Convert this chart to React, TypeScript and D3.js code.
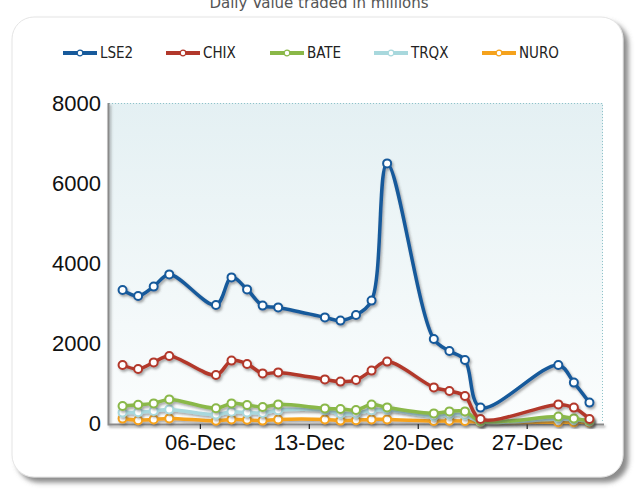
import * as d3 from "d3";
import { useEffect, useRef } from "react";

const dates = [
  "2009-12-01", "2009-12-02", "2009-12-03", "2009-12-04", "2009-12-07",
  "2009-12-08", "2009-12-09", "2009-12-10", "2009-12-11", "2009-12-14",
  "2009-12-15", "2009-12-16", "2009-12-17", "2009-12-18", "2009-12-21",
  "2009-12-22", "2009-12-23", "2009-12-24", "2009-12-29", "2009-12-30",
  "2009-12-31",
];
const lse2 = [3325, 3175, 3410, 3715, 2950, 3640, 3340, 2935, 2890, 2640, 2560, 2700, 3060, 6490, 2100, 1800, 1575, 385, 1450, 1010, 510];
const chix = [1450, 1350, 1515, 1675, 1200, 1560, 1475, 1240, 1265, 1090, 1035, 1075, 1310, 1535, 890, 800, 675, 100, 465, 385, 100];
const bate = [425, 455, 490, 590, 370, 490, 450, 400, 465, 365, 350, 325, 460, 390, 240, 290, 290, 50, 160, 115, 60];
const trqx = [260, 270, 300, 340, 210, 280, 260, 250, 320, 320, 230, 240, 320, 330, 170, 210, 200, 30, 100, 80, 40];
const nuro = [110, 70, 90, 115, 55, 90, 80, 60, 90, 90, 60, 70, 90, 90, 50, 55, 50, 20, 20, 20, 15];

const seriesNames = ["LSE2", "CHIX", "BATE", "TRQX", "NURO"];
const seriesColors = ["#175a9b", "#b2382b", "#8ab848", "#a8d8dd", "#f5a21c"];
const yTicks = [0, 2000, 4000, 6000, 8000];
const xTickDates = ["2009-12-06", "2009-12-13", "2009-12-20", "2009-12-27"];
const xTickLabels = ["06-Dec", "13-Dec", "20-Dec", "27-Dec"];
const title = "Daily Value traded in millions";

export default function App() {
  const ref = useRef<SVGSVGElement>(null);

  useEffect(() => {
    const svg = d3.select(ref.current);
    const width = 638;
    const height = 491;
    const margin = { top: 103, right: 35, bottom: 68, left: 109 };
    svg.selectAll("*").remove();

    const parse = d3.utcParse("%Y-%m-%d");
    const days = dates.map((d) => parse(d) as Date);
    const allSeries = [lse2, chix, bate, trqx, nuro];

    const x = d3
      .scaleUtc()
      .domain([parse("2009-11-30") as Date, parse("2010-01-01") as Date])
      .range([margin.left - 2, width - margin.right + 2]);
    const y = d3
      .scaleLinear()
      .domain([0, 8000])
      .range([height - margin.bottom, margin.top]);

    const defs = svg.append("defs");
    const grad = defs
      .append("linearGradient")
      .attr("id", "bg")
      .attr("x1", 0)
      .attr("y1", 0)
      .attr("x2", 0)
      .attr("y2", 1);
    grad.append("stop").attr("offset", "0%").attr("stop-color", "#e4f0f3");
    grad.append("stop").attr("offset", "100%").attr("stop-color", "#fbfdfd");

    const boxShadow = defs.append("filter").attr("id", "boxShadow").attr("x", "-5%").attr("y", "-5%").attr("width", "115%").attr("height", "115%");
    boxShadow
      .append("feDropShadow")
      .attr("dx", 5)
      .attr("dy", 5)
      .attr("stdDeviation", 2.5)
      .attr("flood-color", "#666")
      .attr("flood-opacity", 0.75);

    const lineShadow = defs.append("filter").attr("id", "lineShadow").attr("x", "-5%").attr("y", "-5%").attr("width", "115%").attr("height", "120%");
    lineShadow
      .append("feDropShadow")
      .attr("dx", 1.5)
      .attr("dy", 2)
      .attr("stdDeviation", 1.2)
      .attr("flood-color", "#444")
      .attr("flood-opacity", 0.45);

    // rounded frame
    svg
      .append("rect")
      .attr("x", 12)
      .attr("y", 17)
      .attr("width", 611)
      .attr("height", 460)
      .attr("rx", 22)
      .attr("fill", "#fff")
      .attr("stroke", "#e4e4e4")
      .attr("filter", "url(#boxShadow)");

    svg
      .append("text")
      .attr("x", 319)
      .attr("y", 8)
      .attr("text-anchor", "middle")
      .attr("font-family", "DejaVu Sans, Verdana, sans-serif")
      .attr("font-size", 15)
      .attr("fill", "#555")
      .text(title);

    // legend
    const legendX = [63, 166, 270, 374, 482];
    const legend = svg
      .selectAll("g.legend")
      .data(seriesNames)
      .join("g")
      .attr("class", "legend")
      .attr("transform", (_, i) => `translate(${legendX[i]},53)`);
    legend
      .append("line")
      .attr("x1", 0)
      .attr("x2", 34)
      .attr("stroke", (_, i) => seriesColors[i])
      .attr("stroke-width", 4);
    legend
      .append("circle")
      .attr("cx", 17)
      .attr("r", 2.8)
      .attr("fill", "#fff")
      .attr("stroke", (_, i) => seriesColors[i])
      .attr("stroke-width", 1.2);
    legend
      .append("text")
      .attr("x", 37)
      .attr("dy", "0.35em")
      .attr("font-family", "DejaVu Sans Condensed, DejaVu Sans, sans-serif")
      .attr("font-size", 15)
      .attr("fill", "#222")
      .text((d) => d);

    // plot background
    const x0 = margin.left;
    const x1 = width - margin.right;
    const yTop = margin.top;
    const yBot = height - margin.bottom;
    svg
      .append("rect")
      .attr("x", x0)
      .attr("y", yTop)
      .attr("width", x1 - x0)
      .attr("height", yBot - yTop)
      .attr("fill", "url(#bg)");
    svg
      .append("path")
      .attr("d", `M${x0},${yTop + 0.5}H${x1 - 0.5}V${yBot}`)
      .attr("fill", "none")
      .attr("stroke", "#8fc3c9")
      .attr("stroke-dasharray", "1,2");

    // axes
    const axisG = svg.append("g").attr("filter", "url(#lineShadow)");
    axisG
      .append("path")
      .attr("d", `M${x0 - 0.5},${yTop}V${yBot + 1.5}H${x1 + 1}`)
      .attr("fill", "none")
      .attr("stroke", "#8a8a8a")
      .attr("stroke-width", 2);

    svg
      .append("g")
      .selectAll("line")
      .data(xTickDates)
      .join("line")
      .attr("x1", (d) => x(parse(d) as Date))
      .attr("x2", (d) => x(parse(d) as Date))
      .attr("y1", yBot + 1)
      .attr("y2", yBot + 6)
      .attr("stroke", "#222")
      .attr("stroke-width", 1.2);

    svg
      .append("g")
      .selectAll("text")
      .data(xTickDates)
      .join("text")
      .attr("x", (d) => x(parse(d) as Date))
      .attr("y", yBot + 27)
      .attr("text-anchor", "middle")
      .attr("font-family", "Liberation Sans, Arial, sans-serif")
      .attr("font-size", 22)
      .attr("fill", "#111")
      .text((_, i) => xTickLabels[i]);

    svg
      .append("g")
      .selectAll("text")
      .data(yTicks)
      .join("text")
      .attr("x", 101)
      .attr("y", (d) => y(d))
      .attr("dy", "0.35em")
      .attr("text-anchor", "end")
      .attr("font-family", "Liberation Sans, Arial, sans-serif")
      .attr("font-size", 22)
      .attr("fill", "#111")
      .text((d) => String(d));

    // series, drawn back to front
    const line = d3
      .line<number>()
      .x((_, i) => x(days[i]))
      .y((d) => y(d))
      .curve(d3.curveCatmullRom.alpha(0.5));

    for (let s = allSeries.length - 1; s >= 0; s--) {
      const g = svg.append("g").attr("filter", "url(#lineShadow)");
      g.append("path")
        .datum(allSeries[s])
        .attr("fill", "none")
        .attr("stroke", seriesColors[s])
        .attr("stroke-width", 3.5)
        .attr("stroke-linejoin", "round")
        .attr("d", line);
      g.selectAll("circle")
        .data(allSeries[s])
        .join("circle")
        .attr("cx", (_, i) => x(days[i]))
        .attr("cy", (d) => y(d))
        .attr("r", 4)
        .attr("fill", "#fff")
        .attr("stroke", seriesColors[s])
        .attr("stroke-width", 2);
    }
  }, []);

  return (
    <svg
      ref={ref}
      width={638}
      height={491}
      style={{ position: "absolute", left: 0, top: 0, background: "#fff" }}
    />
  );
}
